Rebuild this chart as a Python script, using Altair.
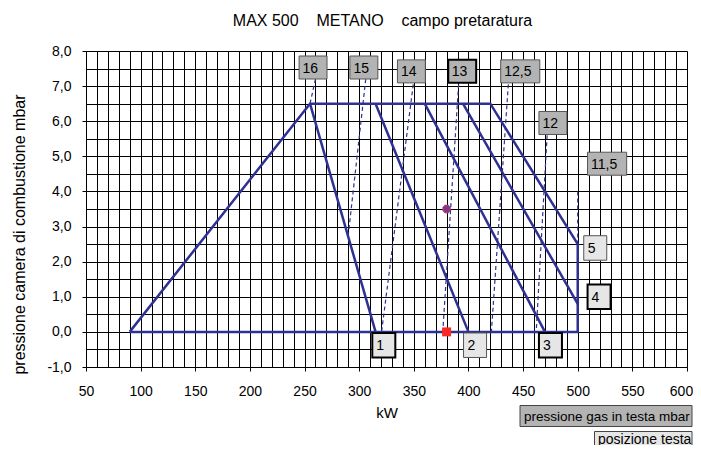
import altair as alt
import pandas as pd

FONT = "Liberation Sans"
BLUE = "#2e3192"
RED = "#ff2626"

GAP = "\u00a0" * 4
TITLE = "MAX 500" + GAP + "METANO" + GAP + "campo pretaratura"
X_TITLE = "kW"
Y_TITLE = "pressione camera di combustione mbar"

# ---- data ----
# working field outline (kW, mbar)
field_kw = [90, 255, 420, 500, 500, 90]
field_mbar = [0, 6.5, 6.5, 2.5, 0, 0]

# head position lines (they start on the 6,5 mbar edge)
head_names = ["1", "2", "3", "4"]
head_kw_top = [255, 315, 360, 395]
head_mbar_top = [6.5, 6.5, 6.5, 6.5]
head_kw_bot = [315, 400, 470, 500]
head_mbar_bot = [0, 0, 0, 0.8]

# gas pressure in head lines (dashed)
gas_names = ["16", "15", "14", "13", "12,5", "12", "11,5"]
gas_kw_top = [260, 306, 349.5, 391, 436.5, 472, 500]
gas_mbar_top = [7.2, 7.2, 7.05, 7.05, 7.05, 5.6, 4.0]
gas_kw_bot = [255, 290, 320.5, 376.5, 421, 462, 500]
gas_mbar_bot = [6.5, 2.75, 0, 0, 0, 0, 2.5]

# label anchors (left edge of label box)
gas_label_kw = [245, 291.5, 335, 381.5, 429.5, 464.5, 509]
gas_label_mbar = [7.53, 7.53, 7.42, 7.42, 7.42, 5.95, 4.79]

pos_names = ["1", "2", "3", "4", "5"]
pos_label_kw = [312, 395.5, 464.5, 509, 505.5]
pos_label_mbar = [-0.38, -0.38, -0.38, 1.0, 2.39]

# working point markers
point_kw = [380]
point_mbar = [0]
check_kw = [380]
check_mbar = [3.5]

x_ticks = list(range(50, 601, 10))
y_ticks = [v / 2 for v in range(-2, 17)]

legend_labels = ["pressione gas in testa mbar", "posizione testa"]

# ---- tables ----
solid_rows = []
for i, (k, m) in enumerate(zip(field_kw, field_mbar)):
    solid_rows.append({"name": "campo", "ord": i, "kW": k, "mbar": m})
for n, k1, m1, k2, m2 in zip(head_names, head_kw_top, head_mbar_top, head_kw_bot, head_mbar_bot):
    solid_rows.append({"name": n, "ord": 0, "kW": k1, "mbar": m1})
    solid_rows.append({"name": n, "ord": 1, "kW": k2, "mbar": m2})
solid_df = pd.DataFrame(solid_rows)

dash_rows = []
for n, k1, m1, k2, m2 in zip(gas_names, gas_kw_top, gas_mbar_top, gas_kw_bot, gas_mbar_bot):
    dash_rows.append({"name": n, "ord": 0, "kW": k1, "mbar": m1})
    dash_rows.append({"name": n, "ord": 1, "kW": k2, "mbar": m2})
dash_df = pd.DataFrame(dash_rows)

gas_df = pd.DataFrame({"name": gas_names, "kW": gas_label_kw, "mbar": gas_label_mbar})
pos_df = pd.DataFrame({"name": pos_names, "kW": pos_label_kw, "mbar": pos_label_mbar})
point_df = pd.DataFrame({"kW": point_kw, "mbar": point_mbar})
check_df = pd.DataFrame({"kW": check_kw, "mbar": check_mbar})

# ---- scales & axes ----
xaxis = alt.Axis(
    values=x_ticks, grid=True, gridColor="#000", gridWidth=1,
    tickColor={"condition": {"test": "datum.value % 50 === 0", "value": "#000"}, "value": "transparent"},
    tickSize=4, format="d",
    labelExpr="datum.value % 50 === 0 ? datum.label : ''",
    labelOffset={"condition": {"test": "datum.value === 600", "value": -6}, "value": 0},
    labelFont=FONT, labelFontSize=14, labelColor="#000", labelPadding=13,
    labelOverlap=False, labelFlush=False,
    domainColor="#000",
    title=X_TITLE, titleFont=FONT, titleFontSize=15, titleFontWeight="normal",
    titleColor="#000", titleY=50, titleBaseline="alphabetic",
)
yaxis = alt.Axis(
    values=y_ticks, grid=True, gridColor="#000", gridWidth=1,
    tickColor={"condition": {"test": "datum.value % 1 === 0", "value": "#000"}, "value": "transparent"},
    tickSize=4,
    labelExpr="datum.value % 1 === 0 ? replace((datum.value < 0 ? '-' : '') + format(abs(datum.value), '.1f'), '.', ',') : ''",
    labelFont=FONT, labelFontSize=14, labelColor="#000", labelPadding=11,
    labelOverlap=False, labelFlush=False,
    domainColor="#000",
    title=Y_TITLE, titleFont=FONT, titleFontSize=16, titleFontWeight="normal",
    titleColor="#000", titleX=-67, titleY=183, titleAngle=-90,
    titleAlign="center", titleBaseline="middle",
)
X = alt.X("kW:Q", scale=alt.Scale(domain=[50, 600], nice=False, zero=False), axis=xaxis)
Y = alt.Y("mbar:Q", scale=alt.Scale(domain=[-1, 8], nice=False, zero=False), axis=yaxis)

solid = alt.Chart(solid_df).mark_line(color=BLUE, strokeWidth=2.5).encode(
    x=X, y=Y, detail="name:N", order="ord:O")
dashed = alt.Chart(dash_df).mark_line(color=BLUE, strokeWidth=1.2, strokeDash=[4, 3]).encode(
    x=X, y=Y, detail="name:N", order="ord:O")

red_sq = alt.Chart(point_df).mark_point(shape="square", filled=True, color=RED, size=80, opacity=1).encode(x=X, y=Y)
check_a = alt.Chart(check_df).mark_point(shape="cross", filled=True, color=RED, size=70, opacity=1).encode(x=X, y=Y)
check_b = alt.Chart(check_df).mark_point(shape="cross", angle=45, filled=True, color="#6a3aa0", size=70, opacity=0.9).encode(x=X, y=Y)

GAS_NARROW = "M0,-1H2.43V1H0Z"
GAS_WIDE = "M0,-1H3.4V1H0Z"
POS_BOX = "M0,-1H1.88V1H0Z"

bold_gas = alt.FieldOneOfPredicate(field="name", oneOf=["13"])
bold_pos = alt.FieldOneOfPredicate(field="name", oneOf=["1", "3", "4"])

gas_narrow = alt.Chart(gas_df).transform_filter("length(datum.name) <= 2").mark_point(
    shape=GAS_NARROW, size=529, filled=True, fill="#b3b3b3", fillOpacity=1, opacity=1).encode(
    x=X, y=Y,
    stroke=alt.condition(bold_gas, alt.value("#000"), alt.value("#555")),
    strokeWidth=alt.condition(bold_gas, alt.value(2), alt.value(1)))
gas_wide = alt.Chart(gas_df).transform_filter("length(datum.name) > 2").mark_point(
    shape=GAS_WIDE, size=529, filled=True, fill="#b3b3b3", fillOpacity=1, opacity=1,
    stroke="#555", strokeWidth=1).encode(x=X, y=Y)
gas_text = alt.Chart(gas_df).mark_text(
    align="left", baseline="middle", dx=3.5, dy=1, font=FONT, fontSize=14, color="#000").encode(
    x=X, y=Y, text="name:N")

pos_box = alt.Chart(pos_df).mark_point(
    shape=POS_BOX, size=600, filled=True, fill="#e6e6e6", fillOpacity=1, opacity=1).encode(
    x=X, y=Y,
    stroke=alt.condition(bold_pos, alt.value("#000"), alt.value("#555")),
    strokeWidth=alt.condition(bold_pos, alt.value(2), alt.value(1)))
pos_text = alt.Chart(pos_df).mark_text(
    align="left", baseline="middle", dx=4, dy=1, font=FONT, fontSize=14, color="#000").encode(
    x=X, y=Y, text="name:N")

title_df = pd.DataFrame({"t": [TITLE]})
title = alt.Chart(title_df).mark_text(
    align="center", baseline="alphabetic", font=FONT, fontSize=16, color="#000").encode(
    x=alt.value(296.5), y=alt.value(-25), text="t:N")

leg1_df = pd.DataFrame({"t": [legend_labels[0]]})
leg2_df = pd.DataFrame({"t": [legend_labels[1]]})
leg1_box = alt.Chart(leg1_df).mark_rect(fill="#b3b3b3", stroke="#444", strokeWidth=1).encode(
    x=alt.value(434), x2=alt.value(606), y=alt.value(354.5), y2=alt.value(375.5))
leg1_text = alt.Chart(leg1_df).mark_text(
    align="left", baseline="middle", font=FONT, fontSize=13.5, color="#000").encode(
    x=alt.value(438), y=alt.value(366), text="t:N")
leg2_box = alt.Chart(leg2_df).mark_rect(fill="#e6e6e6", stroke="#444", strokeWidth=1).encode(
    x=alt.value(508.5), x2=alt.value(606), y=alt.value(380.5), y2=alt.value(400))
leg2_text = alt.Chart(leg2_df).mark_text(
    align="left", baseline="middle", font=FONT, fontSize=14, color="#000").encode(
    x=alt.value(512), y=alt.value(388.5), text="t:N")

chart = alt.layer(
    solid, dashed, red_sq, check_a, check_b,
    gas_narrow, gas_wide, gas_text, pos_box, pos_text,
    title, leg1_box, leg1_text, leg2_box, leg2_text,
).properties(
    width=601, height=316,
    autosize=alt.AutoSizeParams(type="none"),
    padding={"left": 78, "top": 43, "right": 6, "bottom": 78},
).configure_view(stroke="#000", strokeWidth=1).configure(background="white")

chart.save("out.html", embed_options={"renderer": "svg", "actions": False})
